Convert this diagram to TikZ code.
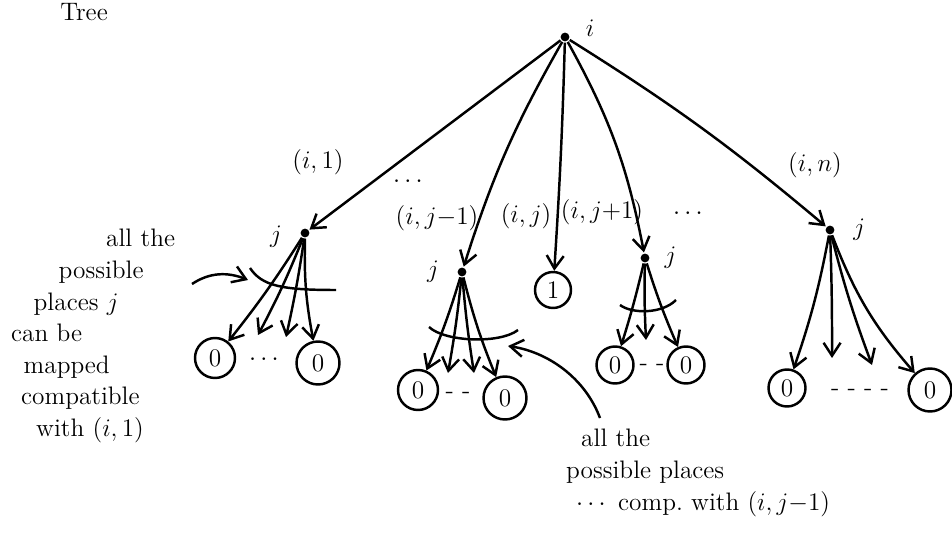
\documentclass[tikz,border=0pt]{standalone}
\usepackage{amsmath,amssymb}
\usetikzlibrary{arrows.meta,calc,positioning}

\begin{document}
\begin{tikzpicture}[
    x=0.02cm, y=-0.02cm,
    >={Straight Barb[length=2.6mm,width=3.4mm]},
    font=\Large,
    line width=1.4pt,
    dot/.style={
        circle,
        fill=black,
        inner sep=0pt,
        minimum size=5pt
    },
    leaf/.style={
        circle,
        draw,
        line width=1.4pt,
        minimum size=0.8cm,
        inner sep=0pt
    },
    edge/.style={->, line width=1.4pt},
    note/.style={align=left, inner sep=0pt}
]

\useasboundingbox (0,0) rectangle (952,536);

% Titolo
\node[anchor=north, inner sep=1pt] (title) at (84,0) {Tree};

% Radice
\node[dot] (root) at (565,37) {};
\node (root-l) at (590,28) {$i$};

% Figli
\node[dot] (ja) at (305,233) {};
\node[left=6pt of ja, yshift=-2pt] (ja-l) {$j$};
\node[dot] (jb) at (462,272) {};
\node[left=6pt of jb] (jb-l) {$j$};
\node[leaf, minimum size=0.72cm] (one) at (553,290) {$1$};
\node[dot] (jd) at (645,258) {};
\node[right=4pt of jd] (jd-l) {$j$};
\node[dot] (je) at (830,230) {};
\node[right=6pt of je] (je-l) {$j$};

% Etichette degli archi
\node (la) at (318,162) {$(i,1)$};
\node (lb) at (437,218) {$(i,j{-}1)$};
\node (lc) at (526,216) {$(i,j)$};
\node[inner sep=0pt] (ld) at (602,212) {$(i,j{+}1)$};
\node (le) at (815,165) {$(i,n)$};
\node (dots-l) at (410,182) {$\cdots$};
\node (dots-r) at (690,214) {$\cdots$};

% Archi dalla radice
\draw[edge] (root) -- (ja);
\draw[edge] (root) to[bend right=6] (jb);
\draw[edge] (root) to[bend left=1] (one);
\draw[edge] (root) to[bend left=9] (jd);
\draw[edge] (root) to[bend left=4] (je);

% Primo gruppo
\node[leaf] (a1) at (215,358) {0};
\node[leaf, minimum size=0.86cm] (a4) at (318,363) {0};
\coordinate (a2) at (258,335);
\coordinate (a3) at (286,337);
\node (a-dots) at (266,360) {$\cdots$};
\draw[edge] (ja) to[bend left=3] (a1);
\draw[edge] (ja) to[bend left=3] (a2);
\draw[edge] (ja) to[bend left=2] (a3);
\draw[edge] (ja) to[bend right=6] (a4);
\draw (250,268) .. controls (262,286) and (282,290) .. (336,290);

% Secondo gruppo
\node[leaf] (b1) at (418,390) {0};
\node[leaf, minimum size=0.86cm] (b4) at (505,398) {0};
\coordinate (b2) at (448,373);
\coordinate (b3) at (474,373);
\node (b-dots) at (458,395) {- -};
\draw[edge] (jb) to[bend left=3] (b1);
\draw[edge] (jb) to[bend left=2] (b2);
\draw[edge] (jb) to[bend right=2] (b3);
\draw[edge] (jb) to[bend right=4] (b4);
\draw (429,327) .. controls (445,342) and (500,344) .. (518,330);

% Terzo gruppo
\node[leaf, minimum size=0.74cm] (d1) at (615,365) {0};
\node[leaf, minimum size=0.74cm] (d3) at (686,365) {0};
\coordinate (d2) at (646,340);
\node (d-dots) at (652,367) {- -};
\draw[edge] (jd) to[bend left=2] (d1);
\draw[edge] (jd) to[bend right=2] (d2);
\draw[edge] (jd) to[bend right=3] (d3);
\draw (620,305) .. controls (632,314) and (662,314) .. (676,300);

% Quarto gruppo
\node[leaf, minimum size=0.74cm] (e1) at (787,388) {0};
\node[leaf, minimum size=0.86cm] (e4) at (930,390) {0};
\coordinate (e2) at (832,358);
\coordinate (e3) at (872,365);
\node (e-dots) at (860,392) {- - - -};
\draw[edge] (je) to[bend left=4] (e1);
\draw[edge] (je) to[bend left=1] (e2);
\draw[edge] (je) to[bend right=3] (e3);
\draw[edge] (je) to[bend right=10] (e4);

% Note
\node[note, anchor=north west] (note-a) at (10,228)
    {\hspace*{1.9cm}all the\\
     \hspace*{0.95cm}possible\\
     \hspace*{0.45cm}places $j$\\
     can be\\
     \hspace*{0.25cm}mapped\\
     \hspace*{0.2cm}compatible\\
     \hspace*{0.5cm}with $(i,1)$};
\coordinate (note-a-end) at (192,284);
\draw[->] (note-a-end) .. controls (210,272) and (228,272) .. (248,280);

\node[note, anchor=north west] (note-b) at (565,428)
    {\hspace*{0.3cm}all the\\
     possible places\\
     \hspace*{0.2cm}$\cdots$ comp.\ with $(i,j{-}1)$};
\coordinate (note-b-end) at (600,418);
\draw[->] (note-b-end) .. controls (585,378) and (548,352) .. (508,346);

\end{tikzpicture}
\end{document}
